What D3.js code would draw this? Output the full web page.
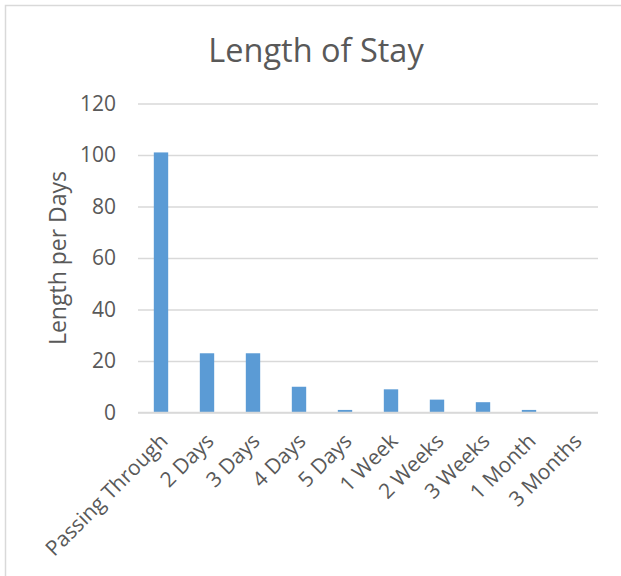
<!DOCTYPE html>
<html>
<head>
<meta charset="utf-8">
<script src="https://cdn.jsdelivr.net/npm/d3@7"></script>
<style>
  html, body { margin: 0; padding: 0; background: #fff; }
  svg { display: block; }
  text { font-family: "Open Sans", "Noto Sans", sans-serif; fill: #595959; }
</style>
</head>
<body>
<script>
// Length of stay categories and counts
const categories = ["Passing Through", "2 Days", "3 Days", "4 Days", "5 Days",
                    "1 Week", "2 Weeks", "3 Weeks", "1 Month", "3 Months"];
const values = [101, 23, 23, 10, 1, 9, 5, 4, 1, 0];
const yTicks = [0, 20, 40, 60, 80, 100, 120];
const titleText = "Length of Stay";
const yAxisTitle = "Length per Days";

const W = 621, H = 576;
const plot = { left: 138, right: 598, top: 103.5, bottom: 412.5 };

const svg = d3.select("body").append("svg")
  .attr("width", W).attr("height", H);

// chart area frame (left and top edges visible)
svg.append("rect")
  .attr("x", 5.5).attr("y", 5.5)
  .attr("width", W + 20).attr("height", H + 20)
  .attr("fill", "#fff")
  .attr("stroke", "#D9D9D9").attr("stroke-width", 1.5);

const x = d3.scaleBand()
  .domain(categories)
  .range([plot.left, plot.right])
  .paddingInner(0.6875)
  .paddingOuter(0.34375);

const y = d3.scaleLinear()
  .domain([0, 120])
  .range([plot.bottom, plot.top]);

// gridlines
const yAxis = d3.axisLeft(y)
  .tickValues(yTicks)
  .tickSize(-(plot.right - plot.left))
  .tickPadding(22);

const gy = svg.append("g")
  .attr("transform", `translate(${plot.left},0)`)
  .call(yAxis);
gy.select(".domain").remove();
gy.selectAll(".tick line")
  .attr("stroke", "#D9D9D9").attr("stroke-width", 1.5);
gy.selectAll(".tick text")
  .attr("font-size", 21)
  .attr("fill", "#595959")
  .style("font-family", "'Open Sans', 'Noto Sans', sans-serif");

// bars
svg.append("g").selectAll("rect")
  .data(values)
  .join("rect")
  .attr("x", (d, i) => x(categories[i]))
  .attr("y", d => y(d))
  .attr("width", x.bandwidth())
  .attr("height", d => y(0) - y(d))
  .attr("fill", "#5B9BD5");

// baseline
svg.append("line")
  .attr("x1", plot.left).attr("x2", plot.right)
  .attr("y1", y(0)).attr("y2", y(0))
  .attr("stroke", "#D9D9D9").attr("stroke-width", 1.5);

// category labels, rotated
const xAxis = d3.axisBottom(x).tickSize(0).tickPadding(0);
const gx = svg.append("g")
  .attr("transform", `translate(0,${plot.bottom})`)
  .call(xAxis);
gx.select(".domain").remove();
gx.selectAll(".tick text")
  .attr("font-size", 21)
  .attr("fill", "#595959")
  .style("font-family", "'Open Sans', 'Noto Sans', sans-serif")
  .attr("text-anchor", "end")
  .attr("dy", null)
  .attr("transform", "translate(8,30) rotate(-45)");

// title
svg.append("text")
  .attr("x", 316).attr("y", 62)
  .attr("text-anchor", "middle")
  .attr("font-size", 32.5)
  .text(titleText);

// y axis title
svg.append("text")
  .attr("transform", "translate(66,258) rotate(-90)")
  .attr("text-anchor", "middle")
  .attr("font-size", 23)
  .text(yAxisTitle);
</script>
</body>
</html>
